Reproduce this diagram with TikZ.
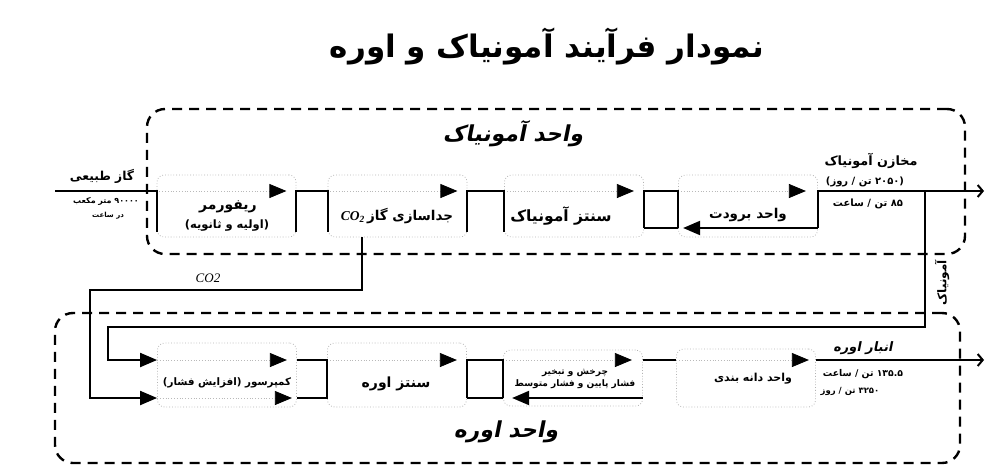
\documentclass[tikz,border=0pt]{standalone}
\usepackage{fontspec}
\usetikzlibrary{arrows.meta,calc}
\TeXXeTstate=1
\newfontfamily\fa[Script=Arabic]{DejaVu Sans}
\newfontfamily\fasl[Script=Arabic,FakeSlant=0.2]{DejaVu Sans}
\newfontfamily\dv{DejaVu Sans}
\newfontfamily\lser{Liberation Serif}
\newcommand\rl[1]{\beginR #1\endR}
\newcommand\fsz[1]{\fontsize{#1}{#1}\selectfont}
\newcommand\faop{\mbox{\dv\bfseries)}}
\newcommand\facl{\mbox{\dv\bfseries(}}
\begin{document}
\begin{tikzpicture}[x=1pt,y=-1pt,
  box/.style={draw=gray!60, dotted, line width=0.8pt, rounded corners=7pt, minimum width=139pt, inner sep=0pt},
  flow/.style={draw=black, line width=2pt},
  inflow/.style={draw=gray!55, dotted, line width=0.8pt, -{Triangle[length=17pt,width=14pt,color=black]}},
  tipflow/.style={flow, -{Triangle[length=17pt,width=14pt]}},
  outflow/.style={flow, -{Straight Barb[length=5pt,width=12pt]}},
  group/.style={draw=black, line width=2.4pt, dash pattern=on 10pt off 7pt, rounded corners=18pt, inner sep=0pt},
  txt/.style={inner sep=0pt, font=\fa\bfseries},
  stxt/.style={inner sep=0pt, font=\fasl\bfseries}]
\useasboundingbox (0,0) rectangle (995,474);

% group frames
\node[group, minimum width=818pt, minimum height=145pt] (gA) at (556,181.5) {};
\node[group, minimum width=905pt, minimum height=150pt] (gB) at (507.5,388) {};

% title and group labels
\node[txt] (title) at (547,46) {\fsz{31}\rl{نمودار فرآیند آمونیاک و اوره}};
\node[stxt] (gAl) at (513,134) {\fsz{22}\rl{واحد آمونیاک}};
\node[stxt] (gBl) at (506,432) {\fsz{22}\rl{واحد اوره}};

% process boxes
\node[box, minimum height=62pt] (b1) at (226.5,206) {};
\node[box, minimum height=62pt] (b2) at (397.5,206) {};
\node[box, minimum height=62pt] (b3) at (574,206) {};
\node[box, minimum height=62pt] (b4) at (748,206) {};
\node[box, minimum height=64pt] (b5) at (227,375) {};
\node[box, minimum height=64pt] (b6) at (397,375) {};
\node[box, minimum height=56pt] (b7) at (573,378) {};
\node[box, minimum height=58pt] (b8) at (746,378) {};

% flow levels
\coordinate (T) at (0,191);
\coordinate (TE) at (0,232);
\coordinate (TR) at (0,228);
\coordinate (BT) at (0,360);
\coordinate (BB) at (0,398);
\coordinate (feed) at (55,191);
\coordinate (outA) at (984,191);
\coordinate (outB) at (984,360);
\coordinate (jA) at (925,191);
\coordinate (a1) at (925,327);
\coordinate (a2) at (108,327);
\coordinate (c1) at (362,290);
\coordinate (c2) at (90,290);

% flows inside boxes
\draw[inflow] (b1.west |- T) -- ($(b1.east |- T)+(-10,0)$);
\draw[inflow] (b2.west |- T) -- ($(b2.east |- T)+(-10,0)$);
\draw[inflow] (b3.west |- T) -- ($(b3.east |- T)+(-10,0)$);
\draw[inflow] (b4.west |- T) -- ($(b4.east |- T)+(-12,0)$);
\draw[inflow] (b5.west |- BT) -- ($(b5.east |- BT)+(-10,0)$);
\draw[inflow] (b5.west |- BB) -- ($(b5.east |- BB)+(-5,0)$);
\draw[inflow] (b6.west |- BT) -- ($(b6.east |- BT)+(-10,0)$);
\draw[inflow] (b7.west |- BT) -- ($(b7.east |- BT)+(-11,0)$);
\draw[inflow] (b8.west |- BT) -- ($(b8.east |- BT)+(-7,0)$);

% ammonia unit connectors
\draw[flow] (feed) -- (b1.west |- T) -- (b1.west |- TE);
\draw[flow] (b1.east |- TE) -- (b1.east |- T) -- (b2.west |- T) -- (b2.west |- TE);
\draw[flow] (b2.east |- TE) -- (b2.east |- T) -- (b3.west |- T) -- (b3.west |- TE);
\draw[flow] (b3.east |- TR) -- (b3.east |- T) -- (b4.west |- T) -- (b4.west |- TR);
\draw[flow] (b4.west |- TR) -- (b3.east |- TR);
\draw[tipflow] (b4.east |- TR) -- ($(b4.west |- TR)+(5,0)$);
\draw[outflow] (b4.east |- TR) -- (b4.east |- T) -- (outA);

% ammonia to urea
\draw[tipflow] (jA) -- (a1) -- (a2) -- (a2 |- BT) -- (b5.west |- BT);
% CO2 to urea
\draw[tipflow] (b2.south -| c1) -- (c1) -- (c2) -- (c2 |- BB) -- (b5.west |- BB);

% urea unit connectors
\draw[flow] (b5.east |- BT) -- (b6.west |- BT) -- (b6.west |- BB) -- (b5.east |- BB);
\draw[flow] (b6.east |- BB) -- (b6.east |- BT) -- (b7.west |- BT) -- (b7.west |- BB);
\draw[flow] (b7.west |- BB) -- (b6.east |- BB);
\draw[tipflow] (b7.east |- BB) -- ($(b7.west |- BB)+(9,0)$);
\draw[flow] (b7.east |- BT) -- (b8.west |- BT);
\draw[outflow] (b8.east |- BT) -- (outB);

% box texts
\node[txt] (b1a) at (228,207) {\fsz{14}\rl{ریفورمر}};
\node[txt] (b1b) at (227,226) {\fsz{11.5}\rl{\faop اولیه و ثانویه\facl}};
\node[txt] (b2a) at (397,216) {\fsz{13.5}\mbox{\lser\itshape CO\textsubscript{2}}\,\rl{جداسازی گاز}};
\node[txt] (b3a) at (561,216) {\fsz{15.5}\rl{سنتز آمونیاک}};
\node[txt] (b4a) at (748,215) {\fsz{13.5}\rl{واحد برودت}};
\node[txt] (b5a) at (227,383) {\fsz{10.3}\rl{کمپرسور \faop افزایش فشار\facl}};
\node[txt] (b6a) at (396,384) {\fsz{14}\rl{سنتز اوره}};
\node[txt, align=center, font=\fa\bfseries\fontsize{9}{12.5}\selectfont] (b7a) at (575,379) {\rl{چرخش و تبخیر}\\\rl{فشار پایین و فشار متوسط}};
\node[txt] (b8a) at (753,379) {\fsz{11}\rl{واحد دانه بندی}};

% stream annotations
\node[txt] (f1) at (102,176) {\fsz{12.3}\rl{گاز طبیعی}};
\node[txt] (f2) at (106,201) {\fsz{8}\rl{۹۰۰۰۰ متر مکعب}};
\node[txt] (f3) at (108,216) {\fsz{7}\rl{در ساعت}};
\node[txt] (s1) at (871,161) {\fsz{12.8}\rl{مخازن آمونیاک}};
\node[txt] (s2) at (865,182) {\fsz{10}\rl{\faop ۲۰۵۰ تن / روز\facl}};
\node[txt] (s3) at (868,204) {\fsz{10}\rl{۸۵ تن / ساعت}};
\node[stxt] (u1) at (863,348) {\fsz{13}\rl{انبار اوره}};
\node[txt] (u2) at (863,374) {\fsz{9.3}\rl{۱۳۵.۵ تن / ساعت}};
\node[txt] (u3) at (850,391) {\fsz{8.5}\rl{۳۲۵۰ تن / روز}};
\node[txt, rotate=90] (nh3) at (942,283) {\fsz{12}\rl{آمونیاک}};
\node[inner sep=0pt, font=\lser\itshape\fontsize{13}{13}\selectfont] (co2l) at (208,278) {CO2};
\end{tikzpicture}
\end{document}
